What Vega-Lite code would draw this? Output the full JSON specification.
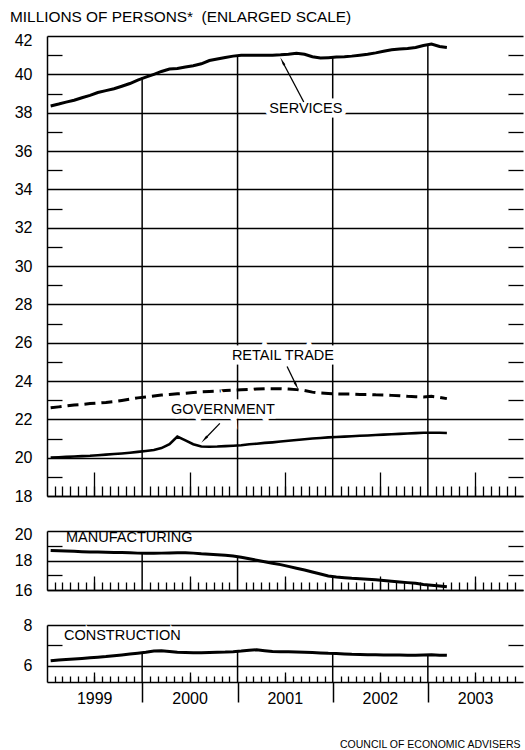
{
  "$schema": "https://vega.github.io/schema/vega-lite/v6.json",
  "padding": {"left": 10, "top": 9, "right": 2, "bottom": 4},
  "background": "white",
  "bounds": "flush",
  "spacing": 35,
  "title": {"text": "MILLIONS OF PERSONS* \u00a0(ENLARGED SCALE)", "anchor": "start", "frame": "group", "dx": -37, "offset": 7, "font": "Liberation Sans", "fontSize": 15.4, "fontWeight": "normal", "color": "black"},
  "config": {
    "view": {"stroke": null},
    "font": "Liberation Sans",
    "axis": {"labelFont": "Liberation Sans", "labelFontSize": 16, "labelColor": "black", "domainColor": "black", "domainWidth": 1.5, "tickColor": "black", "tickWidth": 1.3, "gridColor": "black", "gridWidth": 1.4, "titleColor": "black", "labelFlush": false, "labelOverlap": false}
  },
  "datasets": {
    "emp": [
      {"date": "1999/01/15", "services": 38.35, "retail": 22.6, "government": 20.0, "manufacturing": 18.68, "construction": 6.24},
      {"date": "1999/02/15", "services": 38.45, "retail": 22.65, "government": 20.02, "manufacturing": 18.66, "construction": 6.28},
      {"date": "1999/03/15", "services": 38.55, "retail": 22.7, "government": 20.04, "manufacturing": 18.64, "construction": 6.3},
      {"date": "1999/04/15", "services": 38.65, "retail": 22.75, "government": 20.06, "manufacturing": 18.62, "construction": 6.33},
      {"date": "1999/05/15", "services": 38.78, "retail": 22.78, "government": 20.08, "manufacturing": 18.6, "construction": 6.36},
      {"date": "1999/06/15", "services": 38.9, "retail": 22.82, "government": 20.1, "manufacturing": 18.58, "construction": 6.39},
      {"date": "1999/07/15", "services": 39.05, "retail": 22.85, "government": 20.13, "manufacturing": 18.57, "construction": 6.42},
      {"date": "1999/08/15", "services": 39.15, "retail": 22.88, "government": 20.16, "manufacturing": 18.56, "construction": 6.45},
      {"date": "1999/09/15", "services": 39.25, "retail": 22.92, "government": 20.19, "manufacturing": 18.55, "construction": 6.49},
      {"date": "1999/10/15", "services": 39.38, "retail": 22.98, "government": 20.22, "manufacturing": 18.54, "construction": 6.53},
      {"date": "1999/11/15", "services": 39.52, "retail": 23.05, "government": 20.26, "manufacturing": 18.52, "construction": 6.57},
      {"date": "1999/12/15", "services": 39.7, "retail": 23.12, "government": 20.3, "manufacturing": 18.5, "construction": 6.61},
      {"date": "2000/01/15", "services": 39.85, "retail": 23.17, "government": 20.35, "manufacturing": 18.49, "construction": 6.66},
      {"date": "2000/02/15", "services": 40.0, "retail": 23.22, "government": 20.4, "manufacturing": 18.49, "construction": 6.72},
      {"date": "2000/03/15", "services": 40.15, "retail": 23.27, "government": 20.5, "manufacturing": 18.5, "construction": 6.74},
      {"date": "2000/04/15", "services": 40.28, "retail": 23.3, "government": 20.7, "manufacturing": 18.51, "construction": 6.7},
      {"date": "2000/05/15", "services": 40.3, "retail": 23.33, "government": 21.1, "manufacturing": 18.52, "construction": 6.66},
      {"date": "2000/06/15", "services": 40.38, "retail": 23.36, "government": 20.9, "manufacturing": 18.52, "construction": 6.65},
      {"date": "2000/07/15", "services": 40.45, "retail": 23.4, "government": 20.7, "manufacturing": 18.5, "construction": 6.64},
      {"date": "2000/08/15", "services": 40.55, "retail": 23.43, "government": 20.58, "manufacturing": 18.45, "construction": 6.64},
      {"date": "2000/09/15", "services": 40.72, "retail": 23.45, "government": 20.57, "manufacturing": 18.42, "construction": 6.65},
      {"date": "2000/10/15", "services": 40.8, "retail": 23.47, "government": 20.58, "manufacturing": 18.39, "construction": 6.66},
      {"date": "2000/11/15", "services": 40.88, "retail": 23.5, "government": 20.6, "manufacturing": 18.35, "construction": 6.67},
      {"date": "2000/12/15", "services": 40.95, "retail": 23.52, "government": 20.62, "manufacturing": 18.3, "construction": 6.69},
      {"date": "2001/01/15", "services": 41.0, "retail": 23.54, "government": 20.65, "manufacturing": 18.22, "construction": 6.72},
      {"date": "2001/02/15", "services": 41.0, "retail": 23.56, "government": 20.7, "manufacturing": 18.12, "construction": 6.76},
      {"date": "2001/03/15", "services": 41.0, "retail": 23.58, "government": 20.73, "manufacturing": 18.02, "construction": 6.78},
      {"date": "2001/04/15", "services": 41.0, "retail": 23.6, "government": 20.77, "manufacturing": 17.92, "construction": 6.74},
      {"date": "2001/05/15", "services": 41.0, "retail": 23.6, "government": 20.8, "manufacturing": 17.82, "construction": 6.7},
      {"date": "2001/06/15", "services": 41.02, "retail": 23.6, "government": 20.84, "manufacturing": 17.72, "construction": 6.69},
      {"date": "2001/07/15", "services": 41.05, "retail": 23.58, "government": 20.88, "manufacturing": 17.6, "construction": 6.68},
      {"date": "2001/08/15", "services": 41.1, "retail": 23.55, "government": 20.92, "manufacturing": 17.48, "construction": 6.67},
      {"date": "2001/09/15", "services": 41.05, "retail": 23.5, "government": 20.96, "manufacturing": 17.36, "construction": 6.66},
      {"date": "2001/10/15", "services": 40.92, "retail": 23.42, "government": 21.0, "manufacturing": 17.22, "construction": 6.65},
      {"date": "2001/11/15", "services": 40.85, "retail": 23.37, "government": 21.03, "manufacturing": 17.08, "construction": 6.63},
      {"date": "2001/12/15", "services": 40.87, "retail": 23.35, "government": 21.06, "manufacturing": 16.95, "construction": 6.61},
      {"date": "2002/01/15", "services": 40.9, "retail": 23.33, "government": 21.08, "manufacturing": 16.88, "construction": 6.6},
      {"date": "2002/02/15", "services": 40.92, "retail": 23.32, "government": 21.1, "manufacturing": 16.83, "construction": 6.58},
      {"date": "2002/03/15", "services": 40.95, "retail": 23.32, "government": 21.12, "manufacturing": 16.79, "construction": 6.56},
      {"date": "2002/04/15", "services": 41.0, "retail": 23.3, "government": 21.14, "manufacturing": 16.76, "construction": 6.55},
      {"date": "2002/05/15", "services": 41.05, "retail": 23.3, "government": 21.16, "manufacturing": 16.73, "construction": 6.54},
      {"date": "2002/06/15", "services": 41.12, "retail": 23.28, "government": 21.18, "manufacturing": 16.7, "construction": 6.54},
      {"date": "2002/07/15", "services": 41.2, "retail": 23.27, "government": 21.2, "manufacturing": 16.65, "construction": 6.53},
      {"date": "2002/08/15", "services": 41.28, "retail": 23.25, "government": 21.22, "manufacturing": 16.6, "construction": 6.53},
      {"date": "2002/09/15", "services": 41.32, "retail": 23.23, "government": 21.24, "manufacturing": 16.55, "construction": 6.53},
      {"date": "2002/10/15", "services": 41.35, "retail": 23.2, "government": 21.26, "manufacturing": 16.5, "construction": 6.52},
      {"date": "2002/11/15", "services": 41.4, "retail": 23.18, "government": 21.28, "manufacturing": 16.45, "construction": 6.52},
      {"date": "2002/12/15", "services": 41.5, "retail": 23.17, "government": 21.3, "manufacturing": 16.38, "construction": 6.53},
      {"date": "2003/01/15", "services": 41.58, "retail": 23.2, "government": 21.3, "manufacturing": 16.32, "construction": 6.54},
      {"date": "2003/02/15", "services": 41.45, "retail": 23.15, "government": 21.3, "manufacturing": 16.27, "construction": 6.52},
      {"date": "2003/03/15", "services": 41.4, "retail": 23.08, "government": 21.29, "manufacturing": 16.22, "construction": 6.51}
    ]
  },
  "vconcat": [
    {
      "width": 476,
      "height": 460,
      "resolve": {"axis": {"x": "independent", "y": "independent"}},
      "layer": [
        {
          "data": {"name": "emp"},
          "mark": {"type": "line", "color": "black", "strokeWidth": 3, "strokeDash": [11, 6]},
          "encoding": {
            "x": {"field": "date", "type": "temporal", "scale": {"domain": [{"year": 1999, "month": 1, "date": 1}, {"year": 2004, "month": 1, "date": 1}]},
              "axis": {"orient": "bottom", "title": null, "tickCount": {"interval": "month", "step": 1}, "labels": false, "grid": false, "domain": true, "tickSize": -10,
                "tickOpacity": {"condition": {"test": "month(datum.value) == 0", "value": 0}, "value": 1}}},
            "y": {"field": "retail", "type": "quantitative", "scale": {"domain": [18, 42], "nice": false, "zero": false},
              "axis": {"orient": "left", "title": null, "values": [18,19,20,21,22,23,24,25,26,27,28,29,30,31,32,33,34,35,36,37,38,39,40,41,42],
                "labelExpr": "datum.value % 2 == 0 ? datum.label : ''", "labelPadding": 15,
                "labelOffset": {"condition": {"test": "datum.value == 42", "value": 4}, "value": 0},
                "tickSize": {"condition": {"test": "datum.value % 2 == 1", "value": -15}, "value": 0},
                "grid": true, "gridOpacity": {"condition": {"test": "datum.value % 2 == 0", "value": 1}, "value": 0}}}
          }
        },
        {
          "data": {"name": "emp"},
          "mark": {"type": "line", "color": "black", "strokeWidth": 3},
          "encoding": {
            "x": {"field": "date", "type": "temporal", "scale": {"domain": [{"year": 1999, "month": 1, "date": 1}, {"year": 2004, "month": 1, "date": 1}]},
              "axis": {"orient": "bottom", "title": null, "values": [{"year": 1999, "month": 7, "date": 1}, {"year": 2000, "month": 7, "date": 1}, {"year": 2001, "month": 7, "date": 1}, {"year": 2002, "month": 7, "date": 1}, {"year": 2003, "month": 7, "date": 1}],
                "labels": false, "grid": false, "domain": false, "tickSize": -24}},
            "y": {"field": "services", "type": "quantitative", "scale": {"domain": [18, 42], "nice": false, "zero": false}, "axis": null}
          }
        },
        {
          "data": {"name": "emp"},
          "mark": {"type": "line", "color": "black", "strokeWidth": 2.6},
          "encoding": {
            "x": {"field": "date", "type": "temporal", "scale": {"domain": [{"year": 1999, "month": 1, "date": 1}, {"year": 2004, "month": 1, "date": 1}]}, "axis": null},
            "y": {"field": "government", "type": "quantitative", "scale": {"domain": [18, 42], "nice": false, "zero": false}, "axis": null}
          }
        },
        {
          "data": {"name": "emp"},
          "transform": [{"filter": "month(toDate(datum.date)) == 0 && year(toDate(datum.date)) >= 2000"}],
          "mark": {"type": "rule", "color": "black", "strokeWidth": 1.5},
          "encoding": {
            "x": {"field": "date", "timeUnit": "year", "type": "temporal", "scale": {"domain": [{"year": 1999, "month": 1, "date": 1}, {"year": 2004, "month": 1, "date": 1}]}, "axis": null},
            "y": {"field": "services", "type": "quantitative", "scale": {"domain": [18, 42], "nice": false, "zero": false}, "axis": null},
            "y2": {"value": "height"}
          }
        },
        {
          "data": {"values": [
            {"label": "SERVICES", "date": "2001/09/20", "value": 38.2},
            {"label": "RETAIL TRADE", "date": "2001/06/24", "value": 25.33},
            {"label": "GOVERNMENT", "date": "2000/11/06", "value": 22.47}
          ]},
          "mark": {"type": "text", "font": "Liberation Sans", "fontSize": 14.5, "align": "center", "baseline": "middle", "fill": "white", "stroke": "white", "strokeWidth": 9},
          "encoding": {
            "x": {"field": "date", "type": "temporal", "scale": {"domain": [{"year": 1999, "month": 1, "date": 1}, {"year": 2004, "month": 1, "date": 1}]}, "axis": null},
            "y": {"field": "value", "type": "quantitative", "scale": {"domain": [18, 42], "nice": false, "zero": false}, "axis": null},
            "text": {"field": "label"}
          }
        },
        {
          "data": {"values": [
            {"label": "SERVICES", "date": "2001/09/20", "value": 38.2},
            {"label": "RETAIL TRADE", "date": "2001/06/24", "value": 25.33},
            {"label": "GOVERNMENT", "date": "2000/11/06", "value": 22.47}
          ]},
          "mark": {"type": "text", "font": "Liberation Sans", "fontSize": 14.5, "align": "center", "baseline": "middle", "color": "black"},
          "encoding": {
            "x": {"field": "date", "type": "temporal", "scale": {"domain": [{"year": 1999, "month": 1, "date": 1}, {"year": 2004, "month": 1, "date": 1}]}, "axis": null},
            "y": {"field": "value", "type": "quantitative", "scale": {"domain": [18, 42], "nice": false, "zero": false},
              "axis": {"orient": "right", "title": null, "values": [19,21,23,25,27,29,31,33,35,37,39,41], "labels": false, "domain": false, "grid": false, "tickSize": -15}},
            "text": {"field": "label"}
          }
        },
        {
          "data": {"values": [
            {"date": "2001/09/12", "value": 38.56, "date2": "2001/06/24", "value2": 40.62},
            {"date": "2001/07/10", "value": 24.76, "date2": "2001/08/13", "value2": 23.8},
            {"date": "2000/10/25", "value": 21.79, "date2": "2000/08/30", "value2": 21.0}
          ]},
          "mark": {"type": "rule", "color": "black", "strokeWidth": 1.3},
          "encoding": {
            "x": {"field": "date", "type": "temporal", "scale": {"domain": [{"year": 1999, "month": 1, "date": 1}, {"year": 2004, "month": 1, "date": 1}]}, "axis": null},
            "x2": {"field": "date2"},
            "y": {"field": "value", "type": "quantitative", "scale": {"domain": [18, 42], "nice": false, "zero": false}, "axis": null},
            "y2": {"field": "value2"}
          }
        },
        {
          "data": {"values": [{"date": "2001/06/24", "value": 40.62}]},
          "mark": {"type": "point", "shape": "wedge", "filled": true, "size": 100, "color": "black", "angle": 332, "opacity": 1},
          "encoding": {
            "x": {"field": "date", "type": "temporal", "scale": {"domain": [{"year": 1999, "month": 1, "date": 1}, {"year": 2004, "month": 1, "date": 1}]}, "axis": null},
            "y": {"field": "value", "type": "quantitative", "scale": {"domain": [18, 42], "nice": false, "zero": false}, "axis": null}
          }
        },
        {
          "data": {"values": [{"date": "2001/08/13", "value": 23.8}]},
          "mark": {"type": "point", "shape": "wedge", "filled": true, "size": 100, "color": "black", "angle": 153, "opacity": 1},
          "encoding": {
            "x": {"field": "date", "type": "temporal", "scale": {"domain": [{"year": 1999, "month": 1, "date": 1}, {"year": 2004, "month": 1, "date": 1}]}, "axis": null},
            "y": {"field": "value", "type": "quantitative", "scale": {"domain": [18, 42], "nice": false, "zero": false}, "axis": null}
          }
        },
        {
          "data": {"values": [{"date": "2000/08/30", "value": 21.0}]},
          "mark": {"type": "point", "shape": "wedge", "filled": true, "size": 100, "color": "black", "angle": 223, "opacity": 1},
          "encoding": {
            "x": {"field": "date", "type": "temporal", "scale": {"domain": [{"year": 1999, "month": 1, "date": 1}, {"year": 2004, "month": 1, "date": 1}]}, "axis": null},
            "y": {"field": "value", "type": "quantitative", "scale": {"domain": [18, 42], "nice": false, "zero": false}, "axis": null}
          }
        }
      ]
    },
    {
      "width": 476,
      "height": 59,
      "resolve": {"axis": {"x": "independent", "y": "independent"}},
      "layer": [
        {
          "data": {"name": "emp"},
          "mark": {"type": "line", "color": "black", "strokeWidth": 3},
          "encoding": {
            "x": {"field": "date", "type": "temporal", "scale": {"domain": [{"year": 1999, "month": 1, "date": 1}, {"year": 2004, "month": 1, "date": 1}]},
              "axis": {"orient": "bottom", "title": null, "tickCount": {"interval": "month", "step": 1}, "labels": false, "grid": false, "domain": true, "tickSize": -8,
                "tickOpacity": {"condition": {"test": "month(datum.value) == 0", "value": 0}, "value": 1}}},
            "y": {"field": "manufacturing", "type": "quantitative", "scale": {"domain": [16, 20], "nice": false, "zero": false},
              "axis": {"orient": "left", "title": null, "values": [16, 17, 18, 19, 20],
                "labelExpr": "datum.value % 2 == 0 ? datum.label : ''", "labelPadding": 15,
                "labelOffset": {"condition": {"test": "datum.value == 20", "value": 3}, "value": 0},
                "tickSize": {"condition": {"test": "datum.value % 2 == 1", "value": -15}, "value": 0},
                "grid": true, "gridOpacity": {"condition": {"test": "datum.value % 2 == 0", "value": 1}, "value": 0}}}
          }
        },
        {
          "data": {"name": "emp"},
          "transform": [{"filter": "month(toDate(datum.date)) == 0 && year(toDate(datum.date)) >= 2000"}],
          "mark": {"type": "rule", "color": "black", "strokeWidth": 1.5},
          "encoding": {
            "x": {"field": "date", "timeUnit": "year", "type": "temporal", "scale": {"domain": [{"year": 1999, "month": 1, "date": 1}, {"year": 2004, "month": 1, "date": 1}]},
              "axis": {"orient": "bottom", "title": null, "values": [{"year": 1999, "month": 7, "date": 1}, {"year": 2000, "month": 7, "date": 1}, {"year": 2001, "month": 7, "date": 1}, {"year": 2002, "month": 7, "date": 1}, {"year": 2003, "month": 7, "date": 1}],
                "labels": false, "grid": false, "domain": false, "tickSize": -14}},
            "y": {"field": "manufacturing", "type": "quantitative", "scale": {"domain": [16, 20], "nice": false, "zero": false}, "axis": null},
            "y2": {"value": "height"}
          }
        },
        {
          "data": {"values": [{"label": "MANUFACTURING", "date": "1999/03/15", "value": 19.53}]},
          "mark": {"type": "text", "font": "Liberation Sans", "fontSize": 14.5, "align": "left", "baseline": "middle", "color": "black"},
          "encoding": {
            "x": {"field": "date", "type": "temporal", "scale": {"domain": [{"year": 1999, "month": 1, "date": 1}, {"year": 2004, "month": 1, "date": 1}]}, "axis": null},
            "y": {"field": "value", "type": "quantitative", "scale": {"domain": [16, 20], "nice": false, "zero": false},
              "axis": {"orient": "right", "title": null, "values": [17, 19], "labels": false, "domain": false, "grid": false, "tickSize": -15}},
            "text": {"field": "label"}
          }
        }
      ]
    },
    {
      "width": 476,
      "height": 57,
      "resolve": {"axis": {"x": "independent", "y": "independent"}},
      "layer": [
        {
          "data": {"name": "emp"},
          "mark": {"type": "line", "color": "black", "strokeWidth": 3},
          "encoding": {
            "x": {"field": "date", "type": "temporal", "scale": {"domain": [{"year": 1999, "month": 1, "date": 1}, {"year": 2004, "month": 1, "date": 1}]},
              "axis": {"orient": "bottom", "title": null, "tickCount": {"interval": "month", "step": 1}, "labels": false, "grid": false, "domain": true, "tickSize": -6,
                "tickOpacity": {"condition": {"test": "month(datum.value) == 0", "value": 0}, "value": 1}}},
            "y": {"field": "construction", "type": "quantitative", "scale": {"domain": [5.2, 8], "nice": false, "zero": false},
              "axis": {"orient": "left", "title": null, "values": [6, 7, 8],
                "labelExpr": "datum.value % 2 == 0 ? datum.label : ''", "labelPadding": 15,
                "tickSize": {"condition": {"test": "datum.value % 2 == 1", "value": -15}, "value": 0},
                "grid": true, "gridOpacity": {"condition": {"test": "datum.value % 2 == 0", "value": 1}, "value": 0}}}
          }
        },
        {
          "data": {"name": "emp"},
          "transform": [{"filter": "month(toDate(datum.date)) == 0 && year(toDate(datum.date)) >= 2000"}],
          "mark": {"type": "rule", "color": "black", "strokeWidth": 1.5},
          "encoding": {
            "x": {"field": "date", "timeUnit": "year", "type": "temporal", "scale": {"domain": [{"year": 1999, "month": 1, "date": 1}, {"year": 2004, "month": 1, "date": 1}]},
              "axis": {"orient": "bottom", "title": null, "values": [{"year": 1999, "month": 7, "date": 1}, {"year": 2000, "month": 7, "date": 1}, {"year": 2001, "month": 7, "date": 1}, {"year": 2002, "month": 7, "date": 1}, {"year": 2003, "month": 7, "date": 1}],
                "labels": false, "grid": false, "domain": false, "tickSize": -10}},
            "y": {"field": "construction", "type": "quantitative", "scale": {"domain": [5.2, 8], "nice": false, "zero": false}, "axis": null},
            "y2": {"value": "height"}
          }
        },
        {
          "data": {"values": [{"label": "CONSTRUCTION", "date": "1999/03/07", "value": 7.46}]},
          "mark": {"type": "text", "font": "Liberation Sans", "fontSize": 14.5, "align": "left", "baseline": "middle", "fill": "white", "stroke": "white", "strokeWidth": 4},
          "encoding": {
            "x": {"field": "date", "type": "temporal", "scale": {"domain": [{"year": 1999, "month": 1, "date": 1}, {"year": 2004, "month": 1, "date": 1}]},
              "axis": {"orient": "bottom", "values": [{"year": 1999, "month": 7, "date": 1}, {"year": 2000, "month": 7, "date": 1}, {"year": 2001, "month": 7, "date": 1}, {"year": 2002, "month": 7, "date": 1}, {"year": 2003, "month": 7, "date": 1}],
                "format": "%Y", "formatType": "time", "ticks": false, "tickSize": 0, "domain": false, "grid": false, "labelPadding": 8, "labelFontSize": 16,
                "title": "COUNCIL OF ECONOMIC ADVISERS", "titleX": 473, "titleY": 62, "titleAlign": "right", "titleAnchor": "end", "titleBaseline": "middle", "titleFontSize": 10.5, "titleFontWeight": "normal", "titleFont": "Liberation Sans"}},
            "y": {"field": "value", "type": "quantitative", "scale": {"domain": [5.2, 8], "nice": false, "zero": false}, "axis": null},
            "text": {"field": "label"}
          }
        },
        {
          "data": {"values": [{"label": "CONSTRUCTION", "date": "1999/03/07", "value": 7.46}]},
          "mark": {"type": "text", "font": "Liberation Sans", "fontSize": 14.5, "align": "left", "baseline": "middle", "color": "black"},
          "encoding": {
            "x": {"field": "date", "type": "temporal", "scale": {"domain": [{"year": 1999, "month": 1, "date": 1}, {"year": 2004, "month": 1, "date": 1}]},
              "axis": {"orient": "bottom", "title": null, "values": [{"year": 2000, "month": 1, "date": 1}, {"year": 2001, "month": 1, "date": 1}, {"year": 2002, "month": 1, "date": 1}, {"year": 2003, "month": 1, "date": 1}],
                "labels": false, "grid": false, "domain": false, "tickSize": 20, "tickWidth": 1.5}},
            "y": {"field": "value", "type": "quantitative", "scale": {"domain": [5.2, 8], "nice": false, "zero": false},
              "axis": {"orient": "right", "title": null, "values": [7], "labels": false, "domain": false, "grid": false, "tickSize": -15}},
            "text": {"field": "label"}
          }
        }
      ]
    }
  ]
}
